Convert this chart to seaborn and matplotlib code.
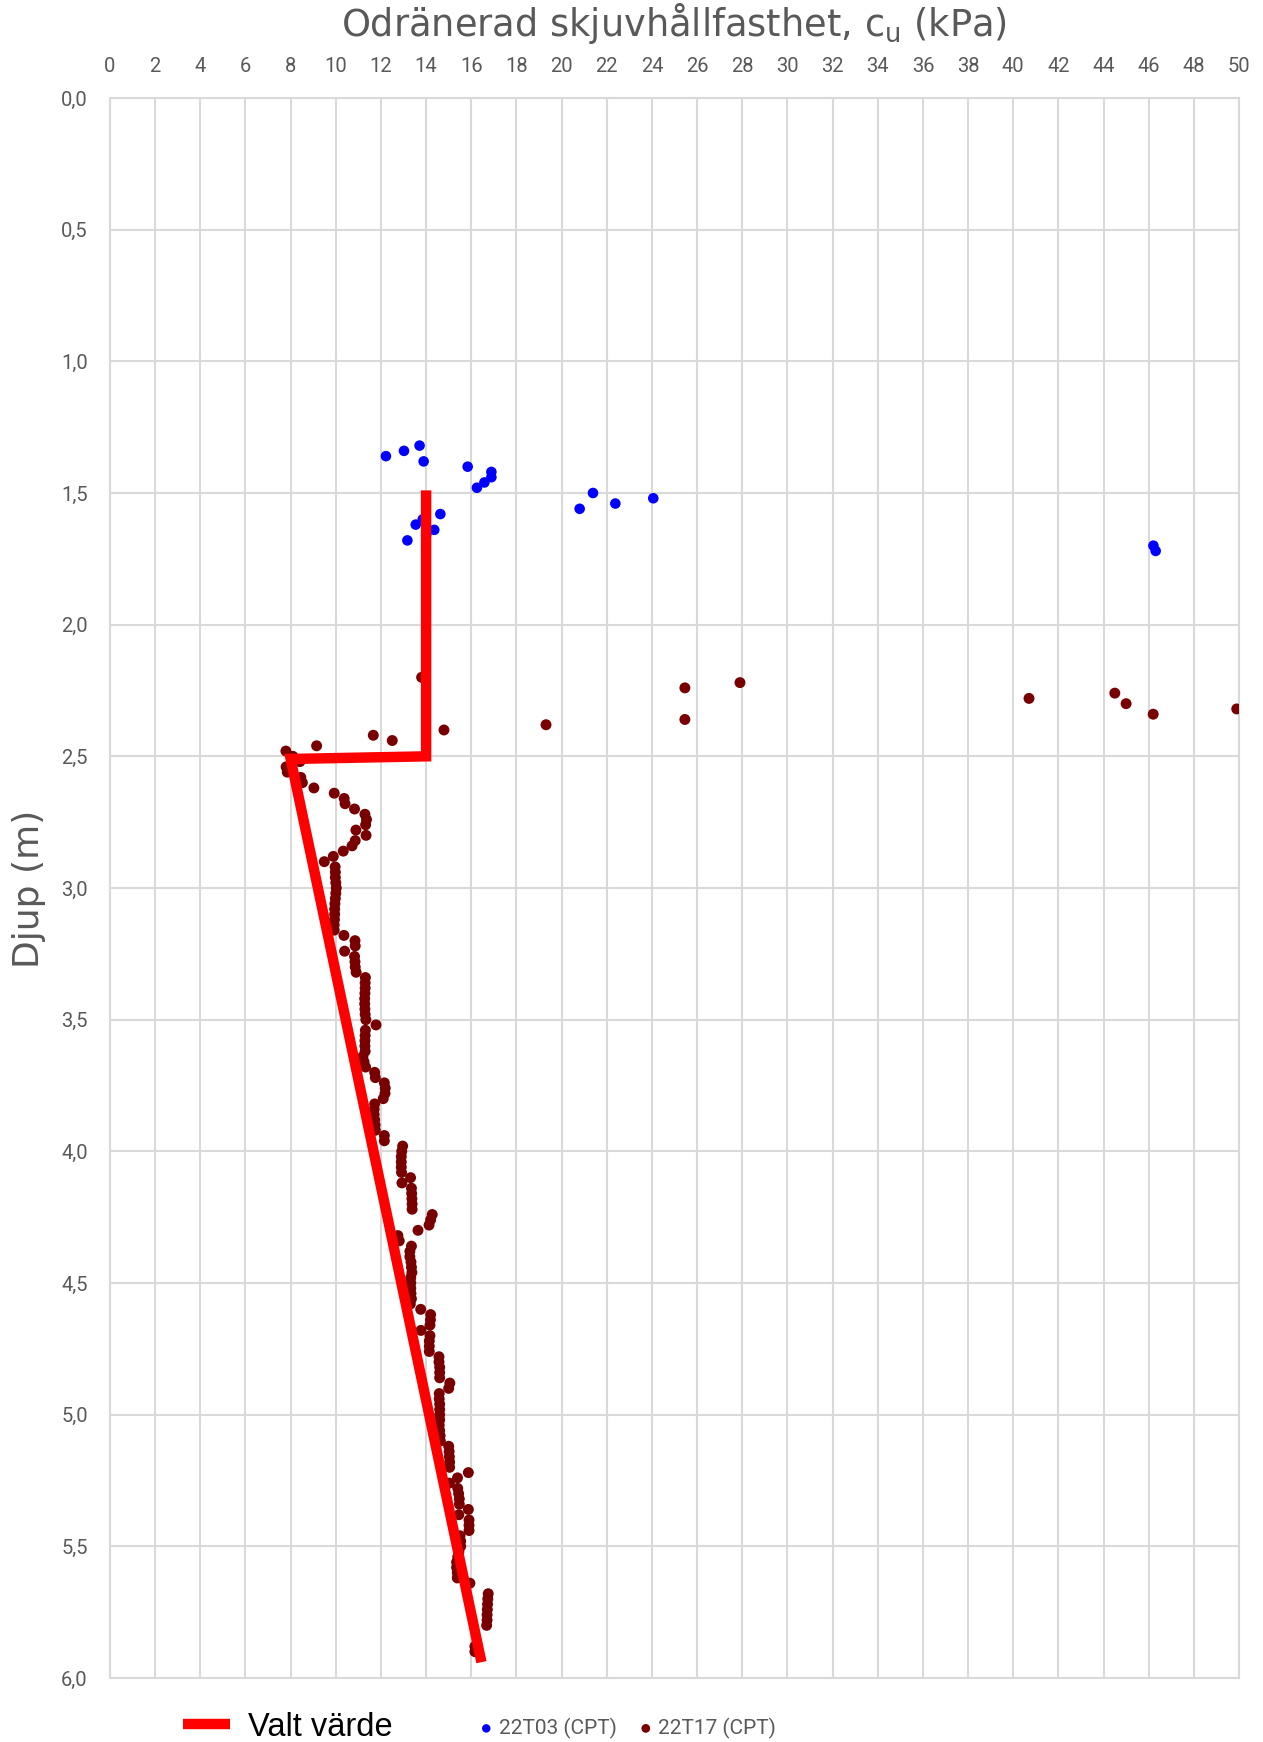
import matplotlib
matplotlib.use("Agg")
import matplotlib.pyplot as plt
import seaborn as sns
import pandas as pd
import numpy as np

# ---------------- data ----------------
t03_cu = [12.22, 13.02, 13.71, 13.89, 15.84, 16.89, 16.89, 16.58, 16.25,
          21.39, 24.06, 22.38, 20.80, 14.63, 13.85, 13.54, 14.36, 14.00, 13.17,
          46.21, 46.31]
t03_depth = [1.36, 1.34, 1.32, 1.38, 1.40, 1.42, 1.44, 1.46, 1.48,
             1.50, 1.52, 1.54, 1.56, 1.58, 1.60, 1.62, 1.64, 1.66, 1.68,
             1.70, 1.72]

t17_depth = [2.20, 2.22, 2.24, 2.26, 2.28, 2.30, 2.32, 2.34, 2.36, 2.38,
             2.40, 2.42, 2.44, 2.46, 2.48, 2.50, 2.52, 2.54, 2.56, 2.58,
             2.60, 2.62, 2.64, 2.66, 2.68, 2.70, 2.72, 2.74, 2.76, 2.78,
             2.80, 2.82, 2.84, 2.86, 2.88, 2.90, 2.92, 2.94, 2.96, 2.98,
             3.00, 3.02, 3.04, 3.06, 3.08, 3.10, 3.12, 3.14, 3.16, 3.18,
             3.20, 3.22, 3.24, 3.26, 3.28, 3.30, 3.32, 3.34, 3.36, 3.38,
             3.40, 3.42, 3.44, 3.46, 3.48, 3.50, 3.52, 3.54, 3.56, 3.58,
             3.60, 3.62, 3.64, 3.66, 3.68, 3.70, 3.72, 3.74, 3.76, 3.78,
             3.80, 3.82, 3.84, 3.86, 3.88, 3.90, 3.92, 3.94, 3.96, 3.98,
             4.00, 4.02, 4.04, 4.06, 4.08, 4.10, 4.12, 4.14, 4.16, 4.18,
             4.20, 4.22, 4.24, 4.26, 4.28, 4.30, 4.32, 4.34, 4.36, 4.38,
             4.40, 4.42, 4.44, 4.46, 4.48, 4.50, 4.52, 4.54, 4.56, 4.58,
             4.60, 4.62, 4.64, 4.66, 4.68, 4.70, 4.72, 4.74, 4.76, 4.78,
             4.80, 4.82, 4.84, 4.86, 4.88, 4.90, 4.92, 4.94, 4.96, 4.98,
             5.00, 5.02, 5.04, 5.06, 5.08, 5.10, 5.12, 5.14, 5.16, 5.18,
             5.20, 5.22, 5.24, 5.26, 5.28, 5.30, 5.32, 5.34, 5.36, 5.38,
             5.40, 5.42, 5.44, 5.46, 5.48, 5.50, 5.52, 5.54, 5.56, 5.58,
             5.60, 5.62, 5.64, 5.68, 5.70, 5.72, 5.74, 5.76, 5.78, 5.80,
             5.88, 5.90]
t17_cu = [13.80, 27.90, 25.46, 44.50, 40.70, 45.00, 49.90, 46.20, 25.46, 19.31,
          14.79, 11.66, 12.50, 9.15, 7.79, 8.10, 8.41, 7.80, 7.85, 8.45,
          8.52, 9.03, 9.93, 10.37, 10.41, 10.83, 11.29, 11.36, 11.32, 10.89,
          11.34, 10.86, 10.72, 10.33, 9.89, 9.49, 9.97, 9.98, 9.98, 10.00,
          10.02, 10.00, 9.98, 9.96, 9.95, 9.95, 9.94, 9.93, 9.93, 10.36,
          10.85, 10.86, 10.39, 10.83, 10.85, 10.86, 10.90, 11.31, 11.30, 11.30,
          11.29, 11.28, 11.28, 11.29, 11.30, 11.33, 11.78, 11.31, 11.30, 11.29,
          11.29, 11.30, 11.20, 11.25, 11.32, 11.72, 11.75, 12.15, 12.19, 12.18,
          12.10, 11.72, 11.70, 11.70, 11.72, 11.74, 11.75, 12.15, 12.15, 12.96,
          12.92, 12.90, 12.90, 12.90, 12.91, 13.31, 12.93, 13.35, 13.36, 13.37,
          13.38, 13.38, 14.27, 14.20, 14.13, 13.64, 12.75, 12.81, 13.35, 13.28,
          13.28, 13.33, 13.35, 13.37, 13.32, 13.32, 13.32, 13.33, 13.35, 13.30,
          13.76, 14.20, 14.19, 14.17, 13.77, 14.17, 14.14, 14.14, 14.14, 14.57,
          14.57, 14.60, 14.60, 14.60, 15.05, 15.00, 14.58, 14.58, 14.60, 14.60,
          14.60, 14.60, 14.58, 14.60, 14.62, 14.63, 15.00, 15.02, 15.03, 15.04,
          15.04, 15.87, 15.39, 15.03, 15.40, 15.44, 15.47, 15.47, 15.87, 15.45,
          15.90, 15.90, 15.90, 15.50, 15.53, 15.53, 15.45, 15.40, 15.35, 15.35,
          15.38, 15.38, 15.94, 16.75, 16.73, 16.72, 16.71, 16.70, 16.70, 16.68,
          16.16, 16.16]

valt_cu = [14.0, 14.0, 8.0, 16.45]
valt_depth = [1.49, 2.50, 2.51, 5.94]

x_ticks = list(range(0, 51, 2))
y_ticks = [0.0, 0.5, 1.0, 1.5, 2.0, 2.5, 3.0, 3.5, 4.0, 4.5, 5.0, 5.5, 6.0]
y_ticklabels = [f"{v:.1f}".replace(".", ",") for v in y_ticks]

title_txt = "Odränerad skjuvhållfasthet, c$_\\mathregular{u}$ (kPa)"
ylabel_txt = "Djup (m)"
legend_labels = ["Valt värde", "22T03 (CPT)", "22T17 (CPT)"]

# ---------------- style ----------------
sns.set_theme(style="white")
plt.rcParams['font.family'] = ['Roboto', 'DejaVu Sans']

GRAY = "#595959"
GRID = "#d9d9d9"

fig = plt.figure(figsize=(12.63, 17.42), dpi=100)
ax = fig.add_axes([110 / 1263, 1 - 1678 / 1742, (1239 - 110) / 1263, (1678 - 98) / 1742])

df03 = pd.DataFrame({"cu": t03_cu, "depth": t03_depth})
df17 = pd.DataFrame({"cu": t17_cu, "depth": t17_depth})
dfv = pd.DataFrame({"cu": valt_cu, "depth": valt_depth})

sns.scatterplot(data=df03, x="cu", y="depth", ax=ax, color="#0000ff", s=58,
                edgecolor="none", linewidth=0, zorder=3, label=legend_labels[1])
sns.scatterplot(data=df17, x="cu", y="depth", ax=ax, color="#780000", s=62,
                edgecolor="none", linewidth=0, zorder=3, label=legend_labels[2])
sns.lineplot(data=dfv, x="cu", y="depth", ax=ax, sort=False, estimator=None,
             color="#ff0000", linewidth=7.5, zorder=4, label=legend_labels[0],
             solid_capstyle="butt", solid_joinstyle="miter")

ax.set_xlim(0, 50)
ax.set_ylim(6.0, 0.0)
ax.xaxis.tick_top()
ax.set_xticks(x_ticks)
ax.set_xticklabels([str(v) for v in x_ticks])
ax.set_yticks(y_ticks)
ax.set_yticklabels(y_ticklabels)
ax.tick_params(axis="both", length=0, labelsize=14.5, labelcolor=GRAY)
ax.tick_params(axis="x", pad=16)
ax.tick_params(axis="y", pad=16)
ax.grid(True, color=GRID, linewidth=1.5)
ax.set_axisbelow(True)
for sp in ax.spines.values():
    sp.set_color(GRID)
    sp.set_linewidth(1.5)
ax.set_xlabel("")
ax.set_ylabel("")

fig.text(674 / 1263, 1 - 24 / 1742, title_txt, ha="center", va="center",
         fontsize=26.5, color=GRAY, family="DejaVu Sans")
fig.text(29 / 1263, 1 - 889 / 1742, ylabel_txt, ha="center", va="center",
         rotation=90, fontsize=26, color=GRAY, family="DejaVu Sans")

# legends
handles, labels = ax.get_legend_handles_labels()
hmap = dict(zip(labels, handles))
if ax.get_legend():
    ax.get_legend().remove()

leg1 = fig.legend([hmap[legend_labels[0]]], [legend_labels[0]],
                  loc="center left", bbox_to_anchor=(183 / 1263, 1 - 1727 / 1742),
                  frameon=False, borderpad=0, borderaxespad=0,
                  handlelength=1.45, handletextpad=0.55,
                  prop={"family": "Liberation Sans", "size": 23.5})
leg1.get_texts()[0].set_color("black")
leg1.get_lines()[0].set_solid_capstyle("butt")
leg2 = fig.legend([hmap[legend_labels[1]], hmap[legend_labels[2]]],
                  [legend_labels[1], legend_labels[2]], ncol=2,
                  loc="center left", bbox_to_anchor=(480 / 1263, 1 - 1728 / 1742),
                  frameon=False, borderpad=0, borderaxespad=0,
                  handlelength=0.6, handletextpad=0.3,
                  columnspacing=1.1, markerscale=0.8,
                  prop={"family": "Roboto", "size": 15})
for t in leg2.get_texts():
    t.set_color(GRAY)

fig.savefig("out.png", dpi=100)
